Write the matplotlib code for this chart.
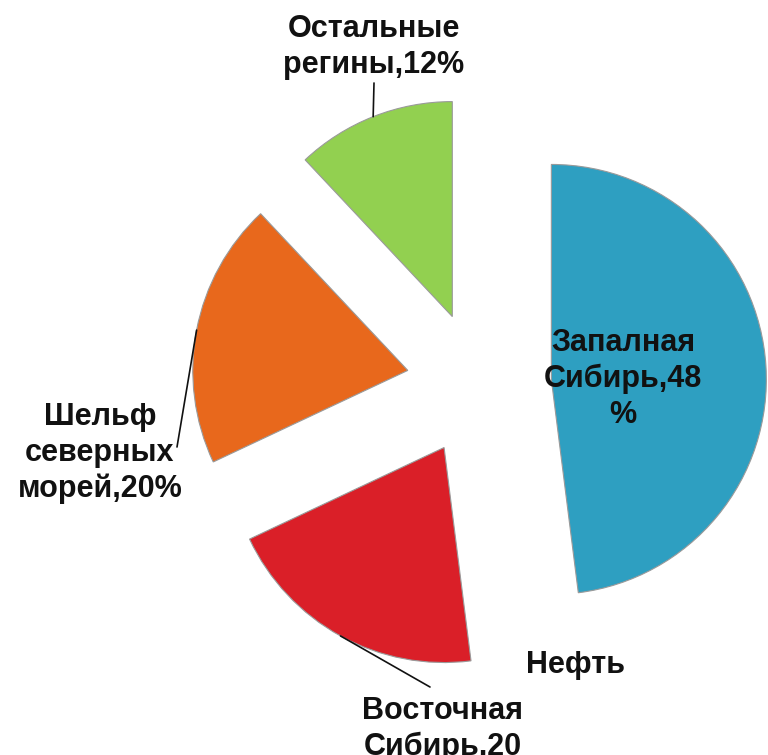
import math
import matplotlib
matplotlib.use("Agg")
import matplotlib.pyplot as plt

# Data
categories = ["Запалная\nСибирь,48\n%", "Восточная\nСибирь,20", "Шельф\nсеверных\nморей,20%", "Остальные\nрегины,12%"]
values = [48, 20, 20, 12]
colors = ["#2E9FC1", "#DA1F28", "#E8681C", "#92D050"]
title = "Нефть"

W, H = 768, 755
fig = plt.figure(figsize=(W / 100, H / 100), dpi=100)
ax = fig.add_axes([0, 0, 1, 1])

radius = 215
center = (479, H - 384)
explode_px = [72.5, 72.5, 72.5, 72.5]

wedges, _ = ax.pie(values, colors=colors, startangle=90, counterclock=False,
                   explode=explode_px, radius=radius, center=center,
                   wedgeprops=dict(edgecolor="#9a9a9a", linewidth=0.8))
ax.set_xlim(0, W)
ax.set_ylim(0, H)
ax.set_aspect("equal")
ax.axis("off")

font = dict(family=["Liberation Sans", "DejaVu Sans"], fontsize=22,
            fontweight="bold", color="#111111", linespacing=1.25)

def arc_point(w):
    tm = math.radians(0.5 * (w.theta1 + w.theta2))
    cx, cy = w.center
    return (cx + w.r * math.cos(tm), cy + w.r * math.sin(tm))

# label for West Siberia inside wedge
ax.text(623, H - 379, categories[0], ha="center", va="center", **font)

# outer labels: text block centre and leader-line end offset from it
label_pos = {1: (443, H - 729), 2: (100, H - 453), 3: (374, H - 47)}
leader_off = {1: (-13, 42), 2: (77, 6), 3: (0, -36)}
for i, (lx, ly) in label_pos.items():
    ax.text(lx, ly, categories[i], ha="center", va="center", **font)
    dx, dy = leader_off[i]
    ax.annotate("", xy=arc_point(wedges[i]), xytext=(lx + dx, ly + dy),
                annotation_clip=False,
                arrowprops=dict(arrowstyle="-", color="#111111", lw=1.2,
                                shrinkA=0, shrinkB=0))

ax.text(576, H - 665, title, ha="center", va="center", **font)

fig.savefig("out.png", dpi=100)
